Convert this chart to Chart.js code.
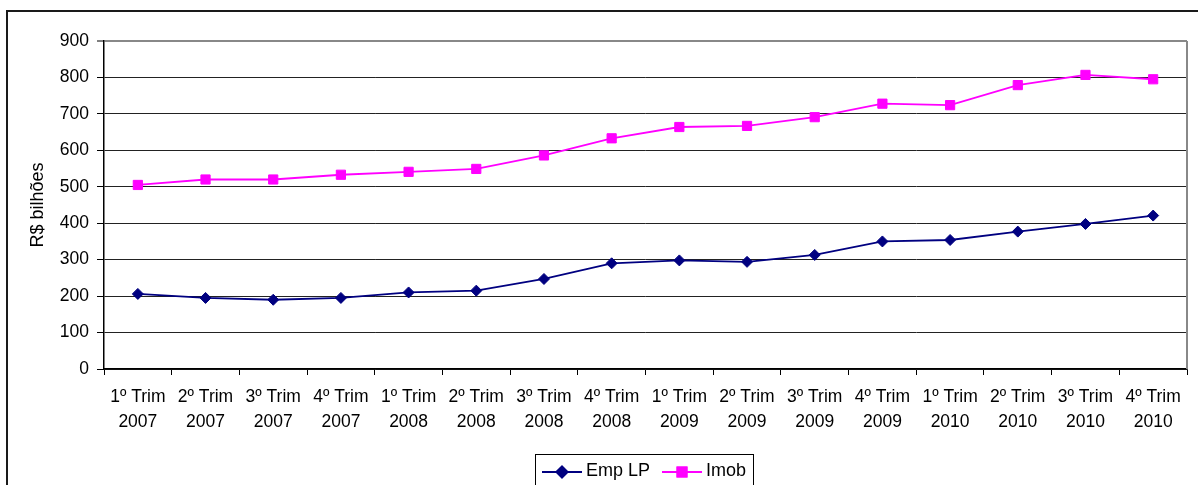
<!DOCTYPE html>
<html>
<head>
<meta charset="utf-8">
<script src="https://cdn.jsdelivr.net/npm/chart.js@4/dist/chart.umd.min.js"></script>
<style>
  html, body { margin: 0; padding: 0; background: #fff; }
  #wrap { width: 1198px; height: 485px; position: relative; }
</style>
</head>
<body>
<div id="wrap"><canvas id="c" width="1198" height="485"></canvas></div>
<script>
// Quarter labels (two lines each)
const categories = [
  ['1º Trim', '2007'], ['2º Trim', '2007'], ['3º Trim', '2007'], ['4º Trim', '2007'],
  ['1º Trim', '2008'], ['2º Trim', '2008'], ['3º Trim', '2008'], ['4º Trim', '2008'],
  ['1º Trim', '2009'], ['2º Trim', '2009'], ['3º Trim', '2009'], ['4º Trim', '2009'],
  ['1º Trim', '2010'], ['2º Trim', '2010'], ['3º Trim', '2010'], ['4º Trim', '2010']
];
// R$ bilhões
const empLP = [206, 195, 190, 195, 210, 215, 247, 290, 298, 294, 313, 350, 354, 377, 398, 421];
const imob  = [505, 520, 520, 533, 541, 549, 586, 633, 664, 667, 691, 728, 724, 779, 807, 795];
const yTicks = [0, 100, 200, 300, 400, 500, 600, 700, 800, 900];

const FONT = 'Liberation Sans, Arial, sans-serif';
const FONT_SIZE = 17.5;

// Outer frame of the chart object
const framePlugin = {
  id: 'frame',
  beforeDraw(chart) {
    const ctx = chart.ctx;
    ctx.save();
    ctx.fillStyle = '#fff';
    ctx.fillRect(0, 0, chart.width, chart.height);
    ctx.strokeStyle = '#1a1a1a';
    ctx.lineWidth = 2;
    ctx.strokeRect(7, 11, chart.width + 20, chart.height + 20);
    ctx.restore();
  },
  afterDraw(chart) {
    // right edge of the plot area
    const a = chart.chartArea;
    const ctx = chart.ctx;
    ctx.save();
    ctx.strokeStyle = '#888';
    ctx.lineWidth = 2;
    ctx.beginPath();
    ctx.moveTo(a.right, a.top);
    ctx.lineTo(a.right, a.bottom);
    ctx.stroke();
    ctx.restore();
  }
};

// Boxed legend with line + marker samples
const legendPlugin = {
  id: 'boxLegend',
  afterDraw(chart) {
    const ctx = chart.ctx;
    const box = { x: 535, y: 454, w: 218, h: 34 };
    ctx.save();
    ctx.strokeStyle = '#000';
    ctx.lineWidth = 1;
    ctx.strokeRect(box.x + 0.5, box.y + 0.5, box.w, box.h);
    ctx.font = '18px ' + FONT;
    ctx.textBaseline = 'alphabetic';
    const cy = 472;
    const itemWidth = 120;
    chart.data.datasets.forEach((ds, i) => {
      const x = 542 + i * itemWidth;
      ctx.strokeStyle = ds.borderColor;
      ctx.lineWidth = ds.borderWidth;
      ctx.beginPath();
      ctx.moveTo(x, cy);
      ctx.lineTo(x + 40, cy);
      ctx.stroke();
      Chart.helpers.drawPoint(ctx, {
        pointStyle: ds.pointStyle,
        radius: ds.pointRadius,
        borderWidth: 1,
        rotation: 0
      }, x + 20, cy);
      ctx.fillStyle = ds.pointBackgroundColor;
      ctx.strokeStyle = ds.pointBorderColor;
      ctx.fill();
      ctx.stroke();
      ctx.fillStyle = '#000';
      ctx.fillText(ds.label, x + 44, 476);
    });
    ctx.restore();
  }
};

new Chart(document.getElementById('c'), {
  type: 'line',
  data: {
    labels: categories,
    datasets: [
      {
        label: 'Emp LP',
        data: empLP,
        borderColor: '#000080',
        backgroundColor: '#000080',
        pointBackgroundColor: '#000080',
        pointBorderColor: '#000080',
        borderWidth: 1.8,
        pointStyle: 'rectRot',
        pointRadius: 5.5,
        pointBorderWidth: 1,
        tension: 0
      },
      {
        label: 'Imob',
        data: imob,
        borderColor: '#ff00ff',
        backgroundColor: '#ff00ff',
        pointBackgroundColor: '#ff00ff',
        pointBorderColor: '#ff00ff',
        borderWidth: 1.8,
        pointStyle: 'rect',
        pointRadius: 6.5,
        pointBorderWidth: 1,
        tension: 0
      }
    ]
  },
  options: {
    responsive: false,
    animation: false,
    devicePixelRatio: 1,
    layout: { padding: { left: 8, top: 41, right: 11, bottom: 40 } },
    plugins: {
      legend: { display: false },
      tooltip: { enabled: false }
    },
    scales: {
      x: {
        type: 'category',
        offset: true,
        afterFit(scale) { scale.height = 76; },
        grid: {
          display: true,
          drawOnChartArea: false,
          offset: true,
          tickLength: 6,
          tickColor: '#000',
          tickWidth: 1
        },
        border: { color: '#000', width: 1.5 },
        ticks: {
          color: '#000',
          font: { family: FONT, size: FONT_SIZE, lineHeight: 1.45 },
          padding: 9,
          maxRotation: 0,
          autoSkip: false
        }
      },
      y: {
        min: 0,
        max: 900,
        afterFit(scale) { scale.width = 96; },
        afterBuildTicks(scale) { scale.ticks = yTicks.map(v => ({ value: v })); },
        grid: {
          color: ctx => (ctx.tick && ctx.tick.value === 900 ? '#888' : '#222'),
          lineWidth: ctx => (ctx.tick && ctx.tick.value === 900 ? 2 : 1),
          tickLength: 7,
          tickColor: '#000',
          tickWidth: 1
        },
        border: { color: '#000', width: 1.5 },
        ticks: {
          color: '#000',
          font: { family: FONT, size: FONT_SIZE },
          padding: 8
        },
        title: {
          display: true,
          text: 'R$ bilhões',
          color: '#000',
          font: { family: FONT, size: 18 },
          padding: { top: 19, bottom: 0 }
        }
      }
    }
  },
  plugins: [framePlugin, legendPlugin]
});
</script>
</body>
</html>
